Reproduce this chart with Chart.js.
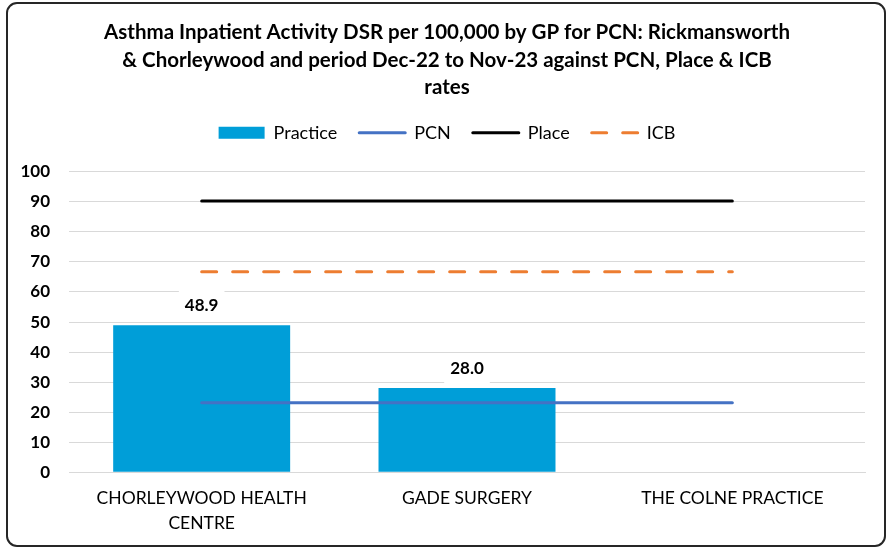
<!DOCTYPE html>
<html><head><meta charset="utf-8">
<script src="https://cdn.jsdelivr.net/npm/chart.js@4.4.0/dist/chart.umd.min.js"></script>
<style>
html,body{margin:0;padding:0;background:#fff;}
#wrap{position:relative;width:887px;height:549px;}
#frame{position:absolute;left:6px;top:2px;width:880px;height:545px;border:2px solid #262626;border-radius:11px;box-sizing:border-box;pointer-events:none;}
canvas{position:absolute;left:0;top:0;}
</style></head><body>
<div id="wrap"><canvas id="c" width="887" height="549"></canvas><div id="frame"></div></div>
<script>
const titleLines = [
  'Asthma Inpatient Activity DSR per 100,000 by GP for PCN: Rickmansworth',
  '& Chorleywood and period Dec-22 to Nov-23 against PCN, Place & ICB',
  'rates'
];
const categories = [['CHORLEYWOOD HEALTH', 'CENTRE'], 'GADE SURGERY', 'THE COLNE PRACTICE'];
const seriesNames = ['Practice', 'PCN', 'Place', 'ICB'];
const practiceValues = [48.9, 28.0, null];
const pcnValues = [23.1, 23.1, 23.1];
const placeValues = [90.3, 90.3, 90.3];
const icbValues = [66.7, 66.7, 66.7];
const yMin = 0, yMax = 100, yStep = 10;

const FONT = "Lato, 'Liberation Sans', Arial, sans-serif";

const barLabels = {
  id: 'barLabels',
  afterDatasetsDraw(chart) {
    const ctx = chart.ctx;
    const meta = chart.getDatasetMeta(0);
    ctx.save();
    ctx.font = 'bold 17px ' + FONT;
    ctx.textAlign = 'center';
    ctx.textBaseline = 'middle';
    meta.data.forEach((bar, i) => {
      const v = practiceValues[i];
      if (v == null) return;
      const t = v.toFixed(1);
      const w = ctx.measureText(t).width;
      const y = bar.y - 20;
      ctx.fillStyle = '#fff';
      ctx.fillRect(bar.x - w / 2 - 6, y - 15, w + 12, 30);
      ctx.fillStyle = '#000';
      ctx.fillText(t, bar.x, y);
    });
    ctx.restore();
  }
};

const legendSpacer = {
  id: 'legendSpacer',
  beforeInit(chart) {
    const orig = chart.legend.fit;
    chart.legend.fit = function () {
      orig.bind(chart.legend)();
      this.height += 20;
    };
  }
};

new Chart(document.getElementById('c'), {
  data: {
    labels: categories,
    datasets: [
      { type: 'bar', label: seriesNames[0], data: practiceValues, backgroundColor: '#009ED8', order: 5,
        barPercentage: 0.667, categoryPercentage: 1 },
      { type: 'line', label: seriesNames[1], data: pcnValues, borderColor: '#4472C4', borderWidth: 3,
        pointRadius: 0, order: 3, borderCapStyle: 'round' },
      { type: 'line', label: seriesNames[2], data: placeValues, borderColor: '#000000', borderWidth: 3,
        pointRadius: 0, order: 2, borderCapStyle: 'round' },
      { type: 'line', label: seriesNames[3], data: icbValues, borderColor: '#ED7D31', borderWidth: 3,
        borderDash: [15, 16], pointRadius: 0, order: 1, borderCapStyle: 'round' }
    ]
  },
  options: {
    responsive: false,
    devicePixelRatio: 1,
    animation: false,
    layout: { padding: { left: 29, right: 22, top: 0, bottom: 0 } },
    plugins: {
      tooltip: { enabled: false },
      title: {
        display: true,
        text: titleLines,
        color: '#000',
        font: { family: FONT, size: 20.5, weight: 'bold', lineHeight: 1.33 },
        padding: { top: 19, bottom: 1 }
      },
      legend: {
        display: true,
        position: 'top',
        labels: {
          color: '#000',
          font: { family: FONT, size: 18 },
          usePointStyle: true,
          pointStyleWidth: 46,
          boxHeight: 12,
          padding: 22,
          generateLabels(chart) {
            return chart.data.datasets.map((ds, i) => {
              const isBar = ds.type === 'bar';
              return {
                text: ds.label,
                datasetIndex: i,
                fillStyle: isBar ? ds.backgroundColor : ds.borderColor,
                strokeStyle: isBar ? ds.backgroundColor : ds.borderColor,
                lineWidth: isBar ? 0 : 3,
                lineDash: ds.borderDash || [],
                lineCap: isBar ? 'butt' : 'round',
                pointStyle: isBar ? 'rect' : 'line',
                hidden: false,
                fontColor: '#000'
              };
            });
          }
        }
      }
    },
    scales: {
      x: {
        grid: { display: false, drawTicks: false },
        border: { display: true, color: '#D9D9D9', width: 1 },
        ticks: { color: '#000', font: { family: FONT, size: 17.5, lineHeight: 1.45 }, padding: 13, maxRotation: 0, autoSkip: false },
        afterFit(scale) { scale.paddingLeft = 0; scale.paddingRight = 0; }
      },
      y: {
        min: yMin, max: yMax,
        grid: { color: '#D9D9D9', lineWidth: 1, drawTicks: false },
        border: { display: false },
        ticks: { stepSize: yStep, color: '#000', font: { family: FONT, size: 17, weight: 'bold' }, padding: 19 },
        afterFit(scale) {
          scale.width = 40;
          scale._computeLabelArea = function () { return undefined; };
        }
      }
    }
  },
  plugins: [barLabels, legendSpacer]
});
</script>
</body></html>
